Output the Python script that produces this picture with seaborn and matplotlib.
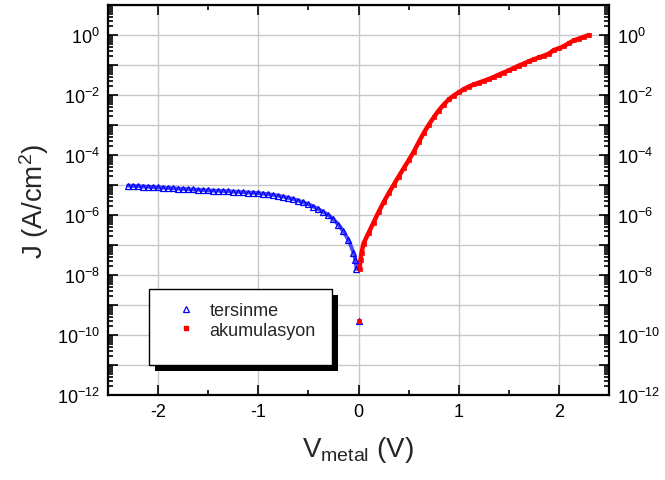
import math
import matplotlib
matplotlib.use("Agg")
import matplotlib.pyplot as plt
import matplotlib.ticker as mticker
from matplotlib.patches import Rectangle
from matplotlib.lines import Line2D
import pandas as pd
import seaborn as sns

# reverse bias branch (tersinme)
v_ters = [-2.30, -2.25, -2.20, -2.15, -2.10, -2.05, -2.00, -1.95, -1.90, -1.85,
          -1.80, -1.75, -1.70, -1.65, -1.60, -1.55, -1.50, -1.45, -1.40, -1.35,
          -1.30, -1.25, -1.20, -1.15, -1.10, -1.05, -1.00, -0.95, -0.90, -0.85,
          -0.80, -0.75, -0.70, -0.65, -0.60, -0.55, -0.50, -0.45, -0.40, -0.35,
          -0.30, -0.25, -0.20, -0.15, -0.10, -0.05, -0.03, -0.02, 0.00]
j_ters = [9.55e-6, 9.33e-6, 9.12e-6, 8.91e-6, 8.71e-6, 8.51e-6, 8.32e-6, 8.13e-6, 7.94e-6, 7.76e-6,
          7.59e-6, 7.41e-6, 7.24e-6, 7.08e-6, 6.92e-6, 6.76e-6, 6.61e-6, 6.46e-6, 6.46e-6, 6.31e-6,
          6.17e-6, 6.03e-6, 5.89e-6, 5.75e-6, 5.62e-6, 5.50e-6, 5.37e-6, 5.13e-6, 4.90e-6, 4.68e-6,
          4.37e-6, 4.07e-6, 3.72e-6, 3.39e-6, 3.02e-6, 2.63e-6, 2.29e-6, 1.91e-6, 1.58e-6, 1.26e-6,
          1.00e-6, 7.08e-7, 4.79e-7, 2.82e-7, 1.48e-7, 5.62e-8, 3.16e-8, 1.58e-8, 3.0e-10]

# forward bias branch (akumulasyon)
v_akum = [0.00, 0.01, 0.02, 0.03, 0.05, 0.10, 0.15, 0.20, 0.25, 0.30,
          0.35, 0.40, 0.45, 0.50, 0.55, 0.60, 0.65, 0.70, 0.75, 0.80,
          0.85, 0.90, 0.95, 1.00, 1.05, 1.10, 1.15, 1.20, 1.25, 1.30,
          1.35, 1.40, 1.45, 1.50, 1.55, 1.60, 1.65, 1.70, 1.75, 1.80,
          1.85, 1.90, 1.95, 2.00, 2.05, 2.10, 2.15, 2.20, 2.25, 2.30]
j_akum = [3.0e-10, 1.58e-8, 3.2e-8, 5.4e-8, 1.12e-7, 2.51e-7, 5.62e-7, 1.26e-6, 2.63e-6, 5.25e-6,
          1.0e-5, 1.91e-5, 3.55e-5, 6.61e-5, 1.26e-4, 2.63e-4, 5.37e-4, 1.0e-3, 1.78e-3, 3.02e-3,
          4.79e-3, 7.08e-3, 9.55e-3, 1.23e-2, 1.55e-2, 1.91e-2, 2.24e-2, 2.57e-2, 2.95e-2, 3.39e-2,
          3.98e-2, 4.79e-2, 5.62e-2, 6.61e-2, 7.94e-2, 9.55e-2, 0.112, 0.132, 0.155, 0.178,
          0.204, 0.240, 0.316, 0.355, 0.427, 0.537, 0.661, 0.759, 0.871, 1.00]

labels = ["tersinme", "akumulasyon"]

df_t = pd.DataFrame({"V": v_ters, "J": j_ters})
df_a = pd.DataFrame({"V": v_akum, "J": j_akum})

sns.set_theme(style="ticks")
plt.rcParams["font.family"] = ["Liberation Sans", "DejaVu Sans"]
plt.rcParams["mathtext.fontset"] = "custom"
plt.rcParams["mathtext.rm"] = "Liberation Sans"
plt.rcParams["mathtext.it"] = "Liberation Sans:italic"
plt.rcParams["axes.unicode_minus"] = False

W, H = 665, 481
fig = plt.figure(figsize=(W / 100, H / 100), dpi=100)
ax = fig.add_axes([108 / W, 1 - 396 / H, (609 - 108) / W, (396 - 6) / H])

# dense measurement look: thick band under the markers (isolated V=0 point left out)
sns.lineplot(data=df_t.iloc[:-1], x="V", y="J", ax=ax, color="#0000ff", linewidth=2.8, alpha=0.7)
sns.lineplot(data=df_a.iloc[1:], x="V", y="J", ax=ax, color="#ff0000", linewidth=3.2)
sns.lineplot(data=df_t, x="V", y="J", ax=ax, linestyle="", marker="^", color="#0000ff",
             markerfacecolor="none", markeredgecolor="#0000ff", markersize=4.5, markeredgewidth=0.9)
sns.lineplot(data=df_a, x="V", y="J", ax=ax, linestyle="", marker="s", color="#ff0000",
             markerfacecolor="#ff0000", markeredgecolor="#ff0000", markersize=3.5, markeredgewidth=0.5)

ax.set_yscale("log")
ax.set_xlim(-2.5, 2.5)
ax.set_ylim(1e-12, 1e1)

ax.xaxis.set_major_locator(mticker.MultipleLocator(1))
ax.xaxis.set_minor_locator(mticker.MultipleLocator(0.5))
ax.yaxis.set_major_locator(mticker.LogLocator(base=10, numticks=30))
ax.yaxis.set_minor_locator(mticker.LogLocator(base=10, subs=range(2, 10), numticks=30))


def ylab(val, pos):
    e = int(round(math.log10(val)))
    return r"$10^{%d}$" % e if e % 2 == 0 else ""


ax.yaxis.set_major_formatter(mticker.FuncFormatter(ylab))
ax.yaxis.set_minor_formatter(mticker.NullFormatter())

ax.tick_params(which="both", direction="in", top=True, right=True, labelright=True,
               labelsize=13, colors="black", width=1.2)
ax.tick_params(which="major", length=7, pad=6)
ax.tick_params(which="minor", length=3.5)
ax.grid(True, which="major", color="#c8c8c8", linewidth=1)
for s in ax.spines.values():
    s.set_linewidth(1.6)
    s.set_color("black")

ax.set_xlabel(r"V$_{\mathrm{metal}}$ (V)", fontsize=20, labelpad=10)
ax.set_ylabel(r"J (A/cm$^{2}$)", fontsize=20, labelpad=4)

# legend box with hard shadow
fig.patches.append(Rectangle((155 / W, 1 - 372 / H), 183 / W, 76 / H, transform=fig.transFigure,
                             facecolor="black", edgecolor="none", zorder=5))
fig.patches.append(Rectangle((149 / W, 1 - 366 / H), 183 / W, 76 / H, transform=fig.transFigure,
                             facecolor="white", edgecolor="black", linewidth=1, zorder=6))
handles = [
    Line2D([], [], linestyle="", marker="^", markerfacecolor="none", markeredgecolor="#0000ff",
           markersize=4, markeredgewidth=0.9),
    Line2D([], [], linestyle="", marker="s", markerfacecolor="#ff0000", markeredgecolor="#ff0000",
           markersize=3.5),
]
leg = fig.legend(handles, labels, loc="upper left", bbox_to_anchor=(168 / W, 1 - 294 / H),
                 frameon=False, fontsize=13, handlelength=1.0, handletextpad=0.8,
                 labelspacing=0.15, borderpad=0)
leg.set_zorder(7)

fig.savefig("out.png", dpi=100)
